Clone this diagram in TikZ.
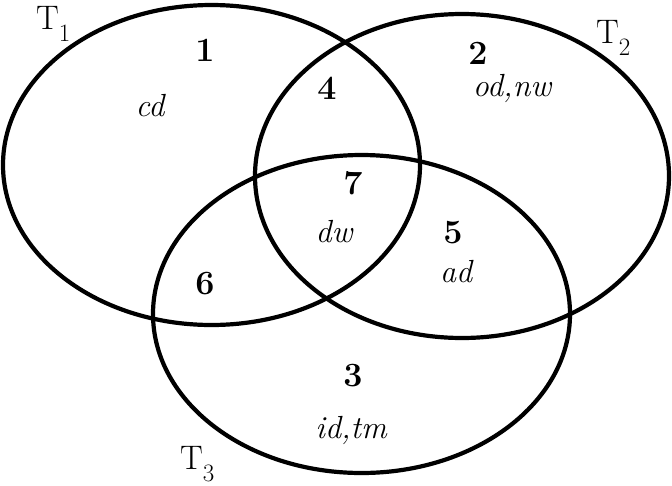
\documentclass[tikz,border=0pt]{standalone}
\usepackage{fontspec}
\begin{document}
\begin{tikzpicture}[x=1pt,y=-1pt,
  venn/.style={line width=4.2pt},
  num/.style={font=\fontsize{34}{40}\selectfont\bfseries, inner sep=0pt},
  lab/.style={font=\fontsize{32}{38}\selectfont\itshape, inner sep=0pt},
  tlab/.style={font=\fontsize{34}{40}\selectfont, inner sep=0pt, anchor=base west}]
\useasboundingbox (0,0) rectangle (672,485);
\coordinate (c1) at (211.5,165);
\coordinate (c2) at (462,176);
\coordinate (c3) at (361.5,314);
\draw[venn] (c1) ellipse [x radius=208.5, y radius=160];
\draw[venn] (c2) ellipse [x radius=207, y radius=162];
\draw[venn] (c3) ellipse [x radius=208.5, y radius=159];
\newcommand{\subsc}[1]{\raisebox{-12pt}{\fontsize{25}{30}\selectfont #1}}
\node[tlab] (t1) at (36,29) {T\subsc{1}};
\node[tlab] (t2) at (596,43) {T\subsc{2}};
\node[tlab] (t3) at (180,469) {T\subsc{3}};
\node[num] (n1) at (205,50) {1};
\node[num] (n2) at (478,53) {2};
\node[num] (n3) at (353,376) {3};
\node[num] (n4) at (327,88) {4};
\node[num] (n5) at (453,233) {5};
\node[num] (n6) at (205,284) {6};
\node[num] (n7) at (353,183) {7};
\node[lab] (l1) at (150,106) {cd};
\node[lab] (l2) at (512,88) {od,nw};
\node[lab] (l7) at (334,232) {dw};
\node[lab] (l5) at (456,272) {ad};
\node[lab] (l3) at (351,430) {id,tm};
\end{tikzpicture}
\end{document}
